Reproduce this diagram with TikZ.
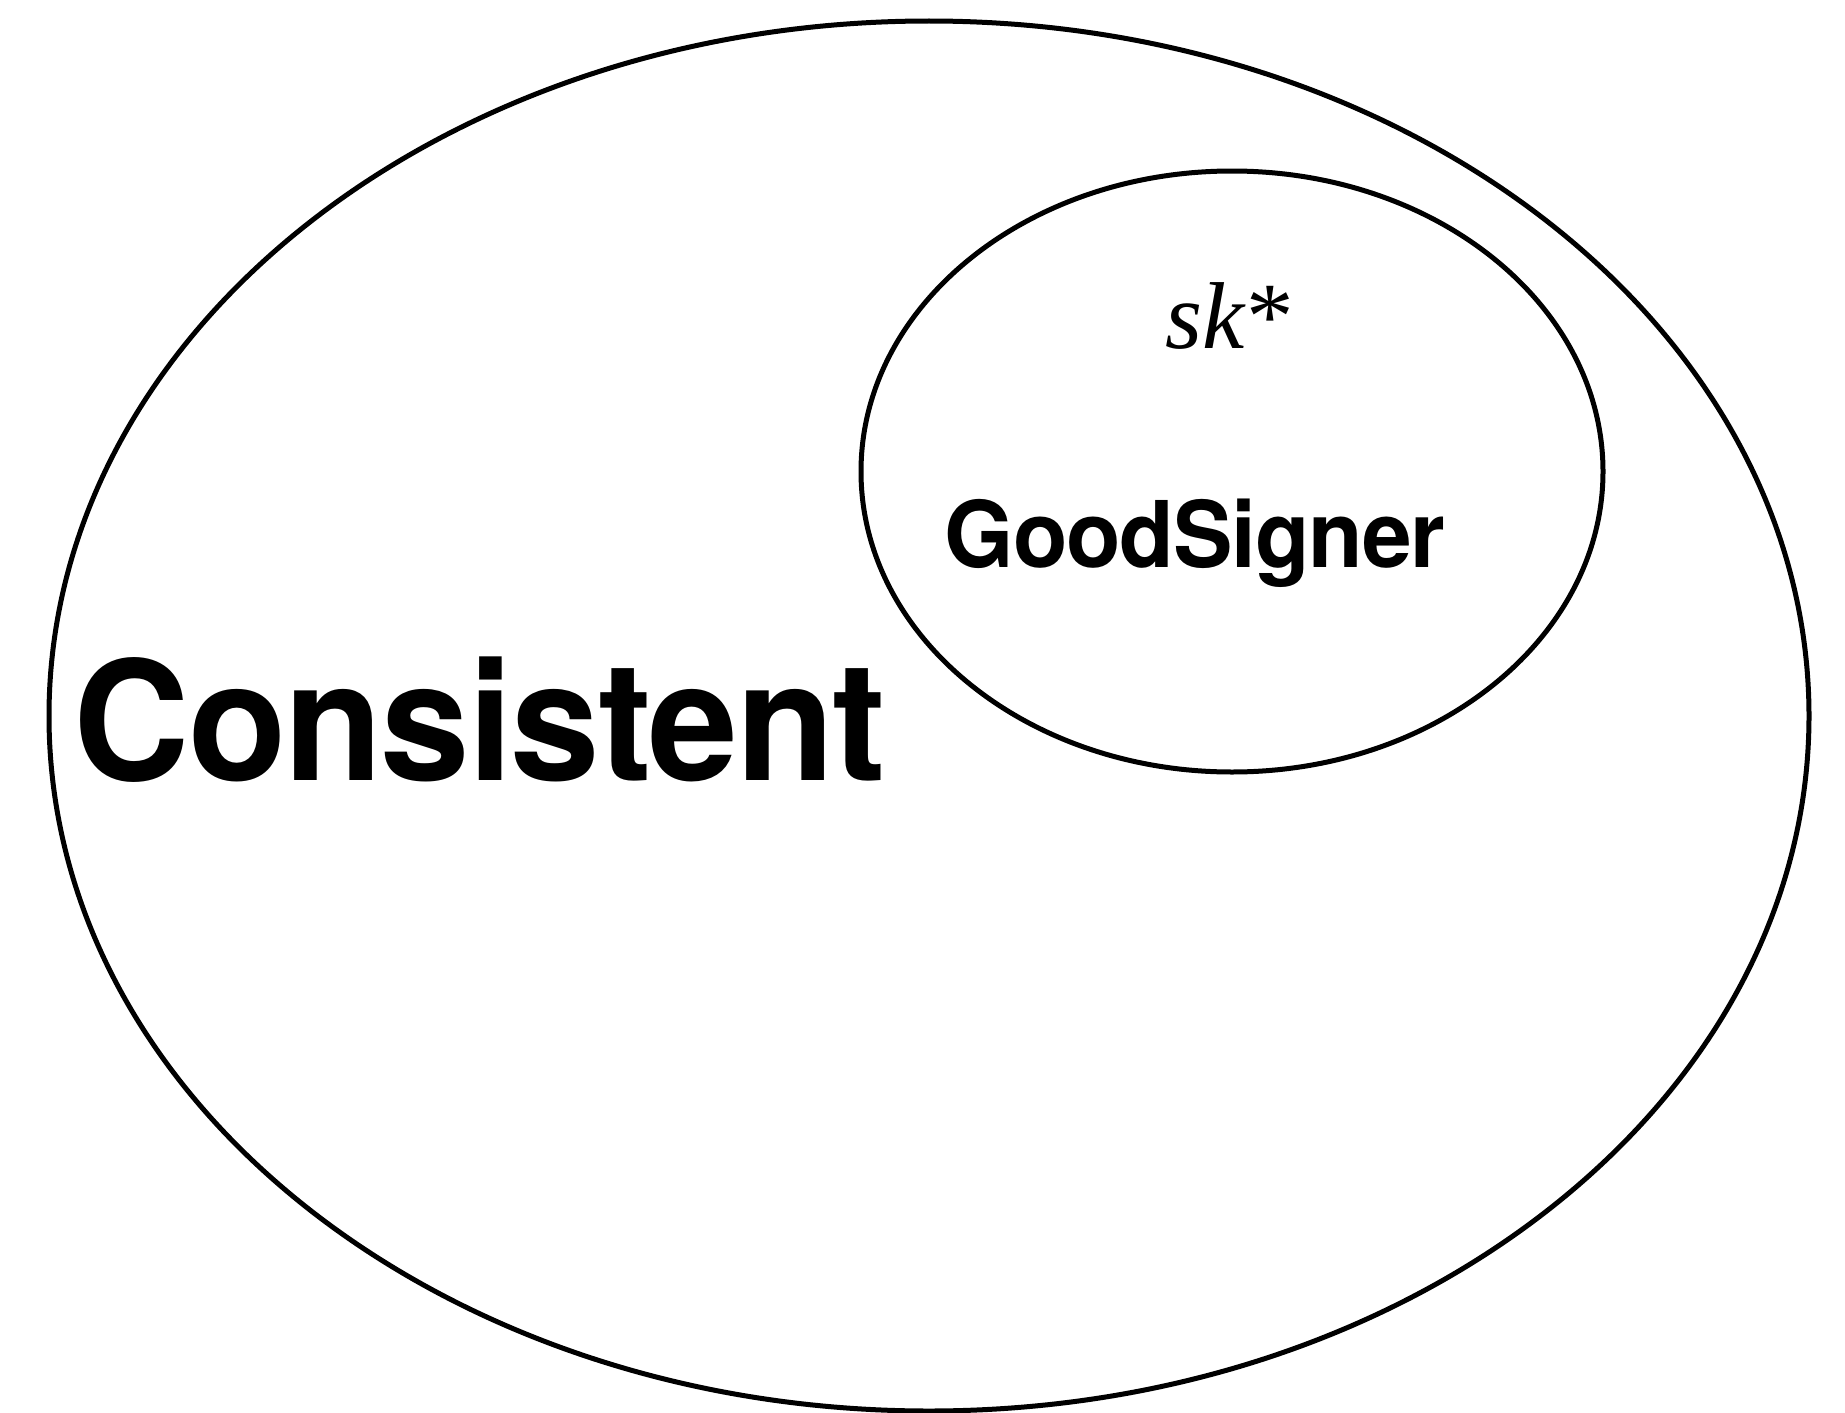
\documentclass[tikz,border=0pt]{standalone}
\usepackage{graphicx}
\usepackage{fontspec}
\setmainfont{Liberation Serif}
\setsansfont{TeX Gyre Heros}
\newfontfamily\tightsans[LetterSpace=-1.3]{TeX Gyre Heros}
\usetikzlibrary{shapes.geometric}
\tikzset{
  setline/.style={draw=black, line width=5pt, ellipse, inner sep=0pt},
  bigsans/.style={font=\tightsans\bfseries\fontsize{166}{170}\selectfont, inner sep=0pt, anchor=base},
  midsans/.style={font=\tightsans\bfseries\fontsize{92}{96}\selectfont, inner sep=0pt, anchor=base},
  mathlabel/.style={font=\rmfamily\fontsize{95}{98}\selectfont, inner sep=0pt, anchor=base}
}
\begin{document}
\begin{tikzpicture}[x=1pt, y=-1pt]
  \useasboundingbox (0,0) rectangle (1845,1413);
  \node[setline, minimum width=1760pt, minimum height=1390pt] (outer) at (929,716) {};
  \node[setline, minimum width=742pt, minimum height=601pt] (inner) at (1232,471.5) {};
  \node[bigsans] (consistent) at (480,780) {\scalebox{0.97}[1]{Consistent}};
  \node[midsans] (goodsigner) at (1195,567) {\scalebox{0.97}[1]{GoodSigner}};
  \node[mathlabel] (sk) at (1230,348) {\textit{sk}*};
\end{tikzpicture}
\end{document}
